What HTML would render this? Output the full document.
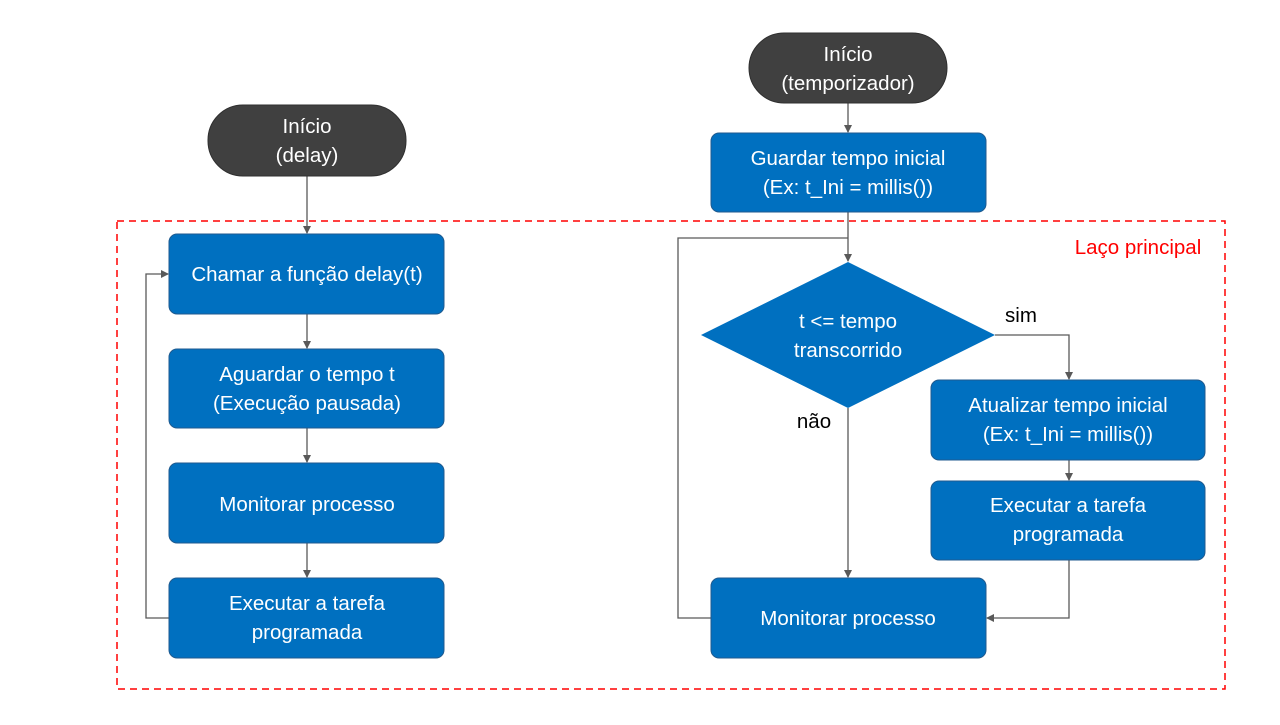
<!DOCTYPE html>
<html><head><meta charset="utf-8"><style>
body{margin:0;background:#fff;}
svg text{font-family:"Liberation Sans",sans-serif;font-size:20.5px;fill:#fff;text-anchor:middle;}
</style></head><body>
<svg width="1280" height="720" viewBox="0 0 1280 720">
<defs><marker id="a" markerWidth="8" markerHeight="8" refX="7" refY="4" orient="auto" markerUnits="userSpaceOnUse"><path d="M0,0 L8,4 L0,8 z" fill="#595959"/></marker></defs>
<rect x="117" y="221" width="1108" height="468" fill="none" stroke="#f00" stroke-width="1.5" stroke-dasharray="7,5"/>
<text x="1138" y="254" style="fill:#f00">Laço principal</text>
<g stroke="#595959" stroke-width="1.3" fill="none">
<line x1="307" y1="176" x2="307" y2="233" marker-end="url(#a)"/>
<line x1="307" y1="314" x2="307" y2="348" marker-end="url(#a)"/>
<line x1="307" y1="428" x2="307" y2="462" marker-end="url(#a)"/>
<line x1="307" y1="543" x2="307" y2="577" marker-end="url(#a)"/>
<polyline points="169,618 146,618 146,274 168,274" marker-end="url(#a)"/>
<line x1="848" y1="103" x2="848" y2="132" marker-end="url(#a)"/>
<line x1="848" y1="212" x2="848" y2="261" marker-end="url(#a)"/>
<polyline points="711,618 678,618 678,238 848,238"/>
<polyline points="995,335 1069,335 1069,379" marker-end="url(#a)"/>
<line x1="1069" y1="460" x2="1069" y2="480" marker-end="url(#a)"/>
<polyline points="1069,560 1069,618 987,618" marker-end="url(#a)"/>
<line x1="848" y1="408" x2="848" y2="577" marker-end="url(#a)"/>
</g>
<g fill="#404040" stroke="#2f2f2f">
<rect x="208" y="105" width="198" height="71" rx="35"/>
<rect x="749" y="33" width="198" height="70" rx="35"/>
</g>
<g fill="#0070C0" stroke="#1f5a8f">
<rect x="169" y="234" width="275" height="80" rx="8"/>
<rect x="169" y="349" width="275" height="79" rx="8"/>
<rect x="169" y="463" width="275" height="80" rx="8"/>
<rect x="169" y="578" width="275" height="80" rx="8"/>
<rect x="711" y="133" width="275" height="79" rx="8"/>
<rect x="931" y="380" width="274" height="80" rx="8"/>
<rect x="931" y="481" width="274" height="79" rx="8"/>
<rect x="711" y="578" width="275" height="80" rx="8"/>
<polygon points="848,262 995,335 848,408 701,335" stroke="none"/>
</g>
<text x="307" y="133">Início</text><text x="307" y="162">(delay)</text>
<text x="848" y="61">Início</text><text x="848" y="90">(temporizador)</text>
<text x="307" y="281">Chamar a função delay(t)</text>
<text x="307" y="381">Aguardar o tempo t</text><text x="307" y="410">(Execução pausada)</text>
<text x="307" y="511">Monitorar processo</text>
<text x="307" y="610">Executar a tarefa</text><text x="307" y="639">programada</text>
<text x="848" y="165">Guardar tempo inicial</text><text x="848" y="194">(Ex: t_Ini = millis())</text>
<text x="848" y="328">t &lt;= tempo</text><text x="848" y="357">transcorrido</text>
<text x="1068" y="412">Atualizar tempo inicial</text><text x="1068" y="441">(Ex: t_Ini = millis())</text>
<text x="1068" y="512">Executar a tarefa</text><text x="1068" y="541">programada</text>
<text x="848" y="625">Monitorar processo</text>
<text x="1021" y="322" style="fill:#000">sim</text>
<text x="814" y="428" style="fill:#000">não</text>
</svg>
</body></html>
